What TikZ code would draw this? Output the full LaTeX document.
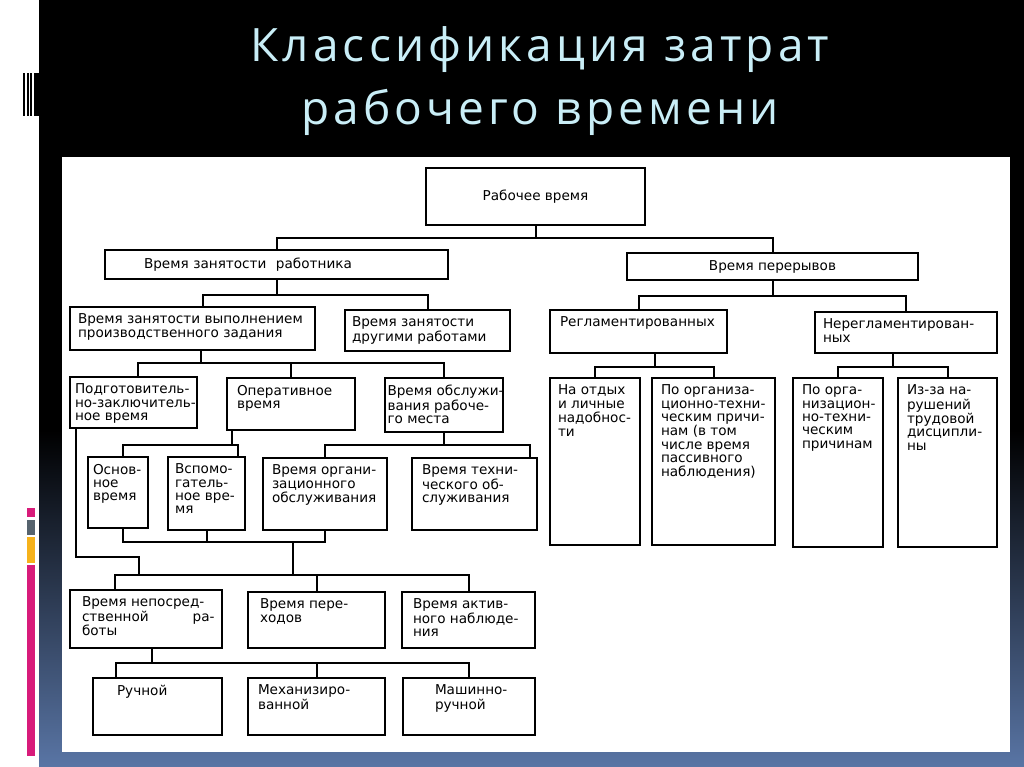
\documentclass[tikz,border=0pt]{standalone}
\usepackage{fontspec}
\setmainfont{DejaVu Sans}
\newfontfamily\titlefont[LetterSpace=9]{Open Sans}

\definecolor{titlecyan}{HTML}{C9EEF7}
\definecolor{slidebottom}{HTML}{5975A5}
\definecolor{barpink}{HTML}{D81B7A}
\definecolor{bargray}{HTML}{56636E}
\definecolor{baryellow}{HTML}{F6B21B}

% box text: [indent]{width}{height}{lines}
\newcommand{\cellbox}[4][0pt]{\parbox[t][\dimexpr#3pt-14pt\relax][t]{\dimexpr#2pt-12pt\relax}{\begin{tabular}[t]{@{\hspace{#1}}l@{}}#4\end{tabular}}}

\begin{document}
\begin{tikzpicture}[x=1pt,y=-1pt]
			\tikzstyle{box}=[draw=black,line width=2.8pt,anchor=north west,inner xsep=6pt,inner ysep=7pt,outer sep=0pt,font=\fontsize{13.6}{13.3}\selectfont]
			\tikzstyle{ttl}=[text=titlecyan,font=\titlefont\fontsize{46}{50}\selectfont,inner sep=0pt,anchor=base]
			\tikzstyle{every path}=[line width=2pt]
			
			\useasboundingbox (0,0) rectangle (1024,767);
			% slide background
			\fill[white] (0,0) rectangle (1024,767);
			\fill[black] (39,0) rectangle (1024,767);
			\shade[top color=black,bottom color=slidebottom] (39,430) rectangle (1024,767);
			\fill[black] (23,73) rectangle (24.5,116);
			\fill[black] (27,73) rectangle (28.5,116);
			\fill[black] (30,73) rectangle (32,116);
			\fill[black] (34,73) rectangle (39,116);
			\fill[barpink] (27,508) rectangle (35,517);
			\fill[bargray] (27,520) rectangle (35,535);
			\fill[baryellow] (27,537) rectangle (35,563);
			\fill[barpink] (27,565) rectangle (35,756);
			\fill[white] (62,157) rectangle (1010,752);
			
			\node[ttl] (ttl1) at (540,62)  {Классификация затрат};
			\node[ttl] (ttl2) at (540,125) {рабочего времени};
			
			% level 1-2
			\node[box,minimum width=219,minimum height=57] (top) at (426,168) {Рабочее время};
			\node[box,minimum width=343,minimum height=29,text width=331,align=left] (emp) at (105,250) {\hspace*{33pt}Время занятости\hspace{5pt} работника};
			\node[box,minimum width=291,minimum height=27] (brk) at (627,253) {Время перерывов};
			
			% employment
			\node[box] (task)  at (70,307)  {\cellbox[2pt]{245}{43}{Время занятости выполнением\\производственного задания}};
			\node[box] (other) at (345,310) {\cellbox[1pt]{165}{41}{Время занятости\\другими работами}};
			\node[box] (prep)  at (70,377)  {\cellbox[-1pt]{127}{51}{Подготовитель-\\но-заключитель-\\ное время}};
			\node[box] (oper)  at (227,378) {\cellbox[4pt]{128}{52}{Оперативное\\время}};
			\node[box] (serv)  at (385,378) {\cellbox[-3.5pt]{118}{54}{Время обслужи-\\вания рабоче-\\го места}};
			\node[box] (ost)   at (88,457)  {\cellbox[-1pt]{60}{71}{Основ-\\ное\\время}};
			\node[box] (aux)   at (168,457) {\cellbox[1pt]{77}{73}{Вспомо-\\гатель-\\ное вре-\\мя}};
			\node[box] (osrv)  at (263,458) {\cellbox[3pt]{124}{72}{Время органи-\\зационного\\обслуживания}};
			\node[box] (tsrv)  at (412,458) {\cellbox[4pt]{125}{72}{Время техни-\\ческого об-\\служивания}};
			\node[box] (direct) at (70,590) {\cellbox[6pt]{152}{58}{Время непосред-\\ственной\hspace{44pt}ра-\\боты}};
			\node[box] (trans) at (248,592) {\cellbox[6pt]{137}{56}{Время пере-\\ходов}};
			\node[box] (actv)  at (402,592) {\cellbox[5pt]{133}{56}{Время актив-\\ного наблюде-\\ния}};
			\node[box] (hand)  at (93,678)  {\cellbox[18pt]{129}{57}{Ручной}};
			\node[box] (mech)  at (248,678) {\cellbox[4pt]{137}{57}{Механизиро-\\ванной}};
			\node[box] (mman)  at (403,678) {\cellbox[26pt]{132}{57}{Машинно-\\ручной}};
			
			% breaks
			\node[box] (reg)  at (550,310) {\cellbox[4pt]{177}{43}{Регламентированных}};
			\node[box] (nreg) at (815,312) {\cellbox[2pt]{182}{41}{Нерегламентирован-\\ных}};
			\node[box] (rest) at (550,378) {\cellbox[2pt]{90}{167}{На отдых\\и личные\\надобнос-\\ти}};
			\node[box] (org)  at (652,378) {\cellbox[3pt]{123}{167}{По организа-\\ционно-техни-\\ческим причи-\\нам (в том\\числе время\\пассивного\\наблюдения)}};
			\node[box] (org2) at (793,378) {\cellbox[3pt]{90}{169}{По орга-\\низацион-\\но-техни-\\ческим\\причинам}};
			\node[box] (disc) at (898,378) {\cellbox[3pt]{99}{169}{Из-за на-\\рушений\\трудовой\\дисципли-\\ны}};
			
			% connectors
			\draw (top.south) -- ++(0,13) coordinate (t1) -| (emp.north);
			\draw (t1) -| (brk.north);
			\draw (emp.south) -- ++(0,16) coordinate (t2) -| ([xshift=10pt]task.north);
			\draw (t2) -| (other.north);
			\draw (brk.south) -- ++(0,16) coordinate (t3) -| (reg.north);
			\draw (t3) -| (nreg.north);
			\draw ([xshift=16pt]reg.south) -- ++(0,14) coordinate (t4) -| (rest.north);
			\draw (t4) -| (org.north);
			\draw ([xshift=-13pt]nreg.south) -- ++(0,14) coordinate (t5) -| (org2.north);
			\draw (t5) -| (disc.north);
			\draw ([xshift=8pt]task.south) -- ++(0,13) coordinate (t6) -| ([xshift=4pt]prep.north);
			\draw (t6) -| (serv.north);
			\draw (oper.north) -- (oper.north |- t6);
			\draw ([xshift=-59pt]oper.south) -- ++(0,15) coordinate (t7) -| ([xshift=5pt]ost.north);
			\draw (t7) -| ([xshift=31pt]aux.north);
			\draw (serv.south) -- ++(0,13) coordinate (t8) -| (osrv.north);
			\draw (t8) -| ([xshift=55pt]tsrv.north);
			
			\coordinate (bus) at (293,575);
			\draw ([xshift=5pt]ost.south) -- ++(0,14) coordinate (t9) -| (osrv.south);
			\draw (aux.south) -- (aux.south |- t9);
			\draw (bus |- t9) -- (bus);
			\draw ([xshift=-58pt]prep.south) -- ++(0,129) -- ++(63,0) -- ++(0,18);
			\draw ([xshift=-31pt]direct.north) |- (bus) -| (actv.north);
			\draw (trans.north) -- (trans.north |- bus);
			\draw ([xshift=6pt]direct.south) -- ++(0,15) coordinate (t10);
			\draw ([xshift=-42pt]hand.north) |- (t10) -| (mman.north);
			\draw (mech.north) -- (mech.north |- t10);
\end{tikzpicture}
\end{document}
